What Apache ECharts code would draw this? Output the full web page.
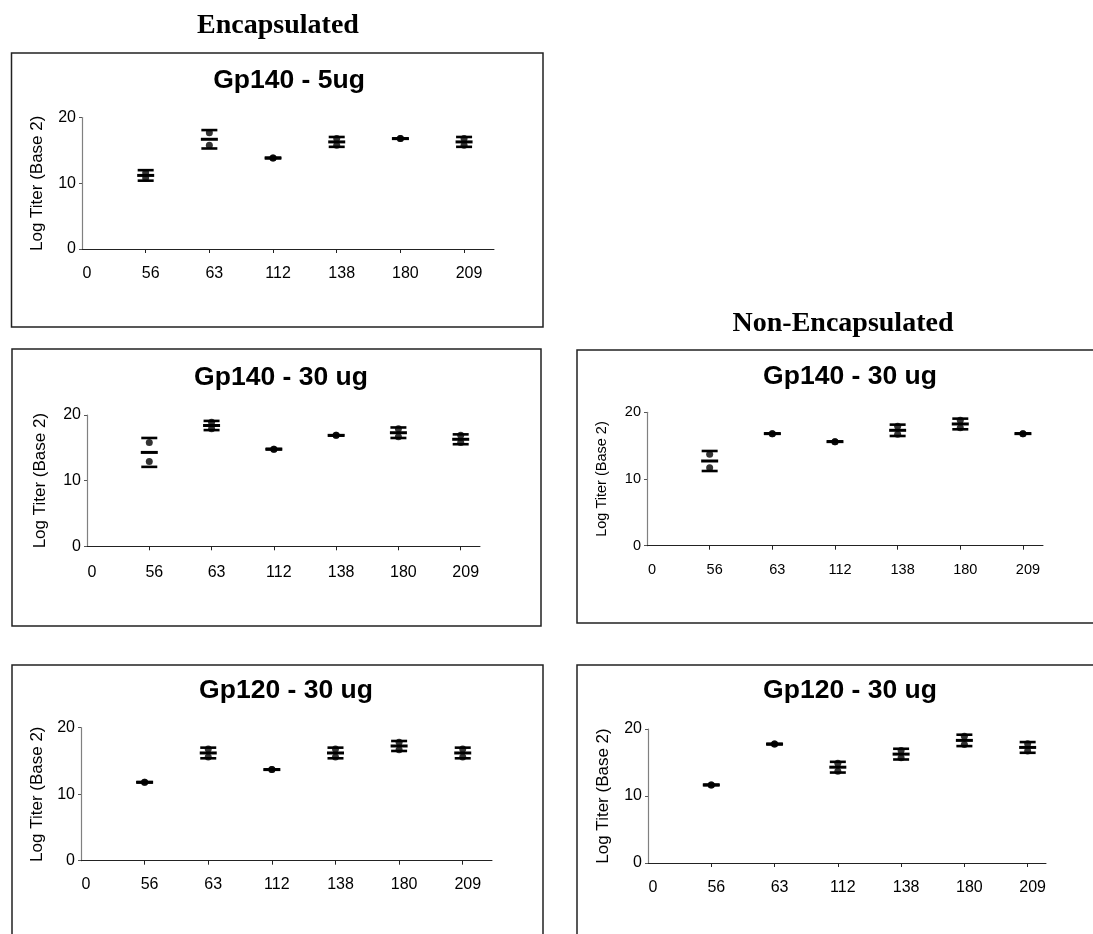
<!DOCTYPE html>
<html>
<head>
<meta charset="utf-8">
<script src="https://cdn.jsdelivr.net/npm/echarts@6/dist/echarts.min.js"></script>
<style>
html,body{margin:0;padding:0;background:#fff;}
#chart{width:1093px;height:934px;}
</style>
</head>
<body>
<div id="chart"></div>
<script>
// ---------- data ----------
var xTickLabels = ['0', '56', '63', '112', '138', '180', '209'];
var yTicks = [0, 10, 20];
var yAxisName = 'Log Titer (Base 2)';
var headerLeft = 'Encapsulated';
var headerRight = 'Non-Encapsulated';

// Encapsulated Gp140 - 5ug
var encGp140_5_title = 'Gp140 - 5ug';
var encGp140_5_mean = [11.2, 16.7, 13.85, 16.3, 16.8, 16.3];
var encGp140_5_sd   = [0.8, 1.4, 0, 0.75, 0, 0.75];
var encGp140_5_rep1 = [11.6, 17.7, 13.85, 16.8, 16.8, 16.8];
var encGp140_5_rep2 = [10.8, 15.8, 13.85, 15.8, 16.8, 15.8];

// Encapsulated Gp140 - 30 ug
var encGp140_30_title = 'Gp140 - 30 ug';
var encGp140_30_mean = [14.3, 18.4, 14.8, 16.9, 17.3, 16.3];
var encGp140_30_sd   = [2.2, 0.7, 0, 0, 0.8, 0.75];
var encGp140_30_rep1 = [15.8, 18.9, 14.8, 16.9, 17.9, 16.9];
var encGp140_30_rep2 = [12.9, 17.9, 14.8, 16.9, 16.7, 15.8];

// Non-Encapsulated Gp140 - 30 ug
var nonGp140_30_title = 'Gp140 - 30 ug';
var nonGp140_30_mean = [12.7, 16.8, 15.6, 17.3, 18.25, 16.8];
var nonGp140_30_sd   = [1.5, 0, 0, 0.85, 0.8, 0];
var nonGp140_30_rep1 = [13.7, 16.8, 15.6, 17.9, 18.8, 16.8];
var nonGp140_30_rep2 = [11.7, 16.8, 15.6, 16.7, 17.7, 16.8];

// Encapsulated Gp120 - 30 ug
var encGp120_30_title = 'Gp120 - 30 ug';
var encGp120_30_mean = [11.8, 16.2, 13.7, 16.2, 17.25, 16.2];
var encGp120_30_sd   = [0, 0.8, 0, 0.8, 0.75, 0.8];
var encGp120_30_rep1 = [11.8, 16.8, 13.7, 16.8, 17.8, 16.8];
var encGp120_30_rep2 = [11.8, 15.6, 13.7, 15.6, 16.7, 15.6];

// Non-Encapsulated Gp120 - 30 ug
var nonGp120_30_title = 'Gp120 - 30 ug';
var nonGp120_30_mean = [11.65, 17.75, 14.3, 16.25, 18.3, 17.25];
var nonGp120_30_sd   = [0, 0, 0.8, 0.8, 0.85, 0.8];
var nonGp120_30_rep1 = [11.65, 17.75, 14.9, 16.8, 18.9, 17.8];
var nonGp120_30_rep2 = [11.65, 17.75, 13.7, 15.7, 17.7, 16.7];

// ---------- layout ----------
var panels = [
  {title: encGp140_5_title, mean: encGp140_5_mean, sd: encGp140_5_sd, r1: encGp140_5_rep1, r2: encGp140_5_rep2,
   box: [11.5, 53, 531.5, 274], grid: [82, 117.6, 412, 131.4], xMax: 6.47, tc: [289, 81],
   lab: 16, name: 17, nameGap: 36, xMargin: 17},
  {title: encGp140_30_title, mean: encGp140_30_mean, sd: encGp140_30_sd, r1: encGp140_30_rep1, r2: encGp140_30_rep2,
   box: [12, 349, 529, 277], grid: [87, 415, 393, 131.3], xMax: 6.31, tc: [281, 377.5],
   lab: 16, name: 17, nameGap: 38, xMargin: 18},
  {title: nonGp140_30_title, mean: nonGp140_30_mean, sd: nonGp140_30_sd, r1: nonGp140_30_rep1, r2: nonGp140_30_rep2,
   box: [577, 350, 530, 273], grid: [647, 412.3, 396, 133.4], xMax: 6.32, tc: [850, 377],
   lab: 14.5, name: 14.5, nameGap: 38, xMargin: 17},
  {title: encGp120_30_title, mean: encGp120_30_mean, sd: encGp120_30_sd, r1: encGp120_30_rep1, r2: encGp120_30_rep2,
   box: [12, 665, 531, 280], grid: [81, 727.7, 411, 133], xMax: 6.46, tc: [286, 691],
   lab: 16, name: 17, nameGap: 35, xMargin: 16},
  {title: nonGp120_30_title, mean: nonGp120_30_mean, sd: nonGp120_30_sd, r1: nonGp120_30_rep1, r2: nonGp120_30_rep2,
   box: [577, 665, 530, 280], grid: [648, 729, 398, 134], xMax: 6.29, tc: [850, 691],
   lab: 16, name: 17, nameGap: 36, xMargin: 17}
];

var FONT = '"Liberation Sans", Arial, sans-serif';
var SERIF = '"Liberation Serif", "Times New Roman", serif';

var grids = [], xAxes = [], yAxes = [], series = [], graphics = [];

graphics.push({type: 'text', x: 278, y: 26, style: {text: headerLeft, font: 'bold 28px ' + SERIF, fill: '#000', align: 'center', verticalAlign: 'middle'}});
graphics.push({type: 'text', x: 843, y: 324, style: {text: headerRight, font: 'bold 28px ' + SERIF, fill: '#000', align: 'center', verticalAlign: 'middle'}});

panels.forEach(function (p, i) {
  graphics.push({type: 'rect', shape: {x: p.box[0], y: p.box[1], width: p.box[2], height: p.box[3]},
    style: {fill: 'none', stroke: '#222', lineWidth: 1.5}, z: 0});
  graphics.push({type: 'text', x: p.tc[0], y: p.tc[1], style: {text: p.title, font: 'bold 26.5px ' + FONT, fill: '#000', align: 'center', verticalAlign: 'middle'}});

  grids.push({left: p.grid[0], top: p.grid[1], width: p.grid[2], height: p.grid[3], containLabel: false});

  var tickPos = [];
  for (var k = 1; k < xTickLabels.length; k++) tickPos.push(k);
  var labPos = [];
  for (var k2 = 0; k2 < xTickLabels.length; k2++) labPos.push(k2);

  xAxes.push({
    type: 'value', gridIndex: i, min: 0, max: p.xMax, interval: 1,
    axisLine: {show: true, onZero: false, lineStyle: {color: '#222', width: 1}},
    axisTick: {show: true, length: 4, customValues: tickPos, lineStyle: {color: '#222'}},
    axisLabel: {show: true, customValues: labPos, margin: p.xMargin, color: '#000', fontSize: p.lab, fontFamily: FONT,
      padding: [0, 0, 0, 10],
      formatter: function (v) { return xTickLabels[Math.round(v)] || ''; }},
    splitLine: {show: false}
  });
  yAxes.push({
    type: 'value', gridIndex: i, min: yTicks[0], max: yTicks[yTicks.length - 1], interval: 10,
    axisLine: {show: true, lineStyle: {color: '#808080', width: 1.2}},
    axisTick: {show: true, length: 3, lineStyle: {color: '#555'}},
    axisLabel: {margin: 6, color: '#000', fontSize: p.lab, fontFamily: FONT},
    splitLine: {show: false},
    name: yAxisName, nameLocation: 'middle', nameGap: p.nameGap,
    nameTextStyle: {fontSize: p.name, fontFamily: FONT, color: '#000'}
  });

  var errData = [], dotData = [];
  for (var j = 0; j < p.mean.length; j++) {
    errData.push([j + 1, p.mean[j], p.sd[j]]);
    dotData.push([j + 1, p.r1[j]]);
    dotData.push([j + 1, p.r2[j]]);
  }

  series.push({
    type: 'custom', xAxisIndex: i, yAxisIndex: i, silent: true, clip: false,
    data: errData,
    renderItem: function (params, api) {
      var x = api.value(0), m = api.value(1), s = api.value(2);
      var c = api.coord([x, m]);
      var hi = api.coord([x, m + s]);
      var lo = api.coord([x, m - s]);
      var hw = 8;
      var st = {stroke: '#000', lineWidth: 2.6};
      return {type: 'group', children: [
        {type: 'line', shape: {x1: c[0] - 8.5, y1: c[1], x2: c[0] + 8.5, y2: c[1]}, style: {stroke: '#000', lineWidth: 3}},
        {type: 'line', shape: {x1: hi[0] - hw, y1: hi[1], x2: hi[0] + hw, y2: hi[1]}, style: st},
        {type: 'line', shape: {x1: lo[0] - hw, y1: lo[1], x2: lo[0] + hw, y2: lo[1]}, style: st}
      ]};
    },
    z: 3
  });
  series.push({
    type: 'scatter', xAxisIndex: i, yAxisIndex: i, silent: true,
    symbol: 'circle', symbolSize: 7, itemStyle: {color: '#000'},
    data: dotData, z: 4
  });
});

var chart = echarts.init(document.getElementById('chart'), null, {renderer: 'canvas'});
chart.setOption({
  animation: false,
  backgroundColor: '#fff',
  grid: grids,
  xAxis: xAxes,
  yAxis: yAxes,
  series: series,
  graphic: graphics
});
</script>
</body>
</html>
